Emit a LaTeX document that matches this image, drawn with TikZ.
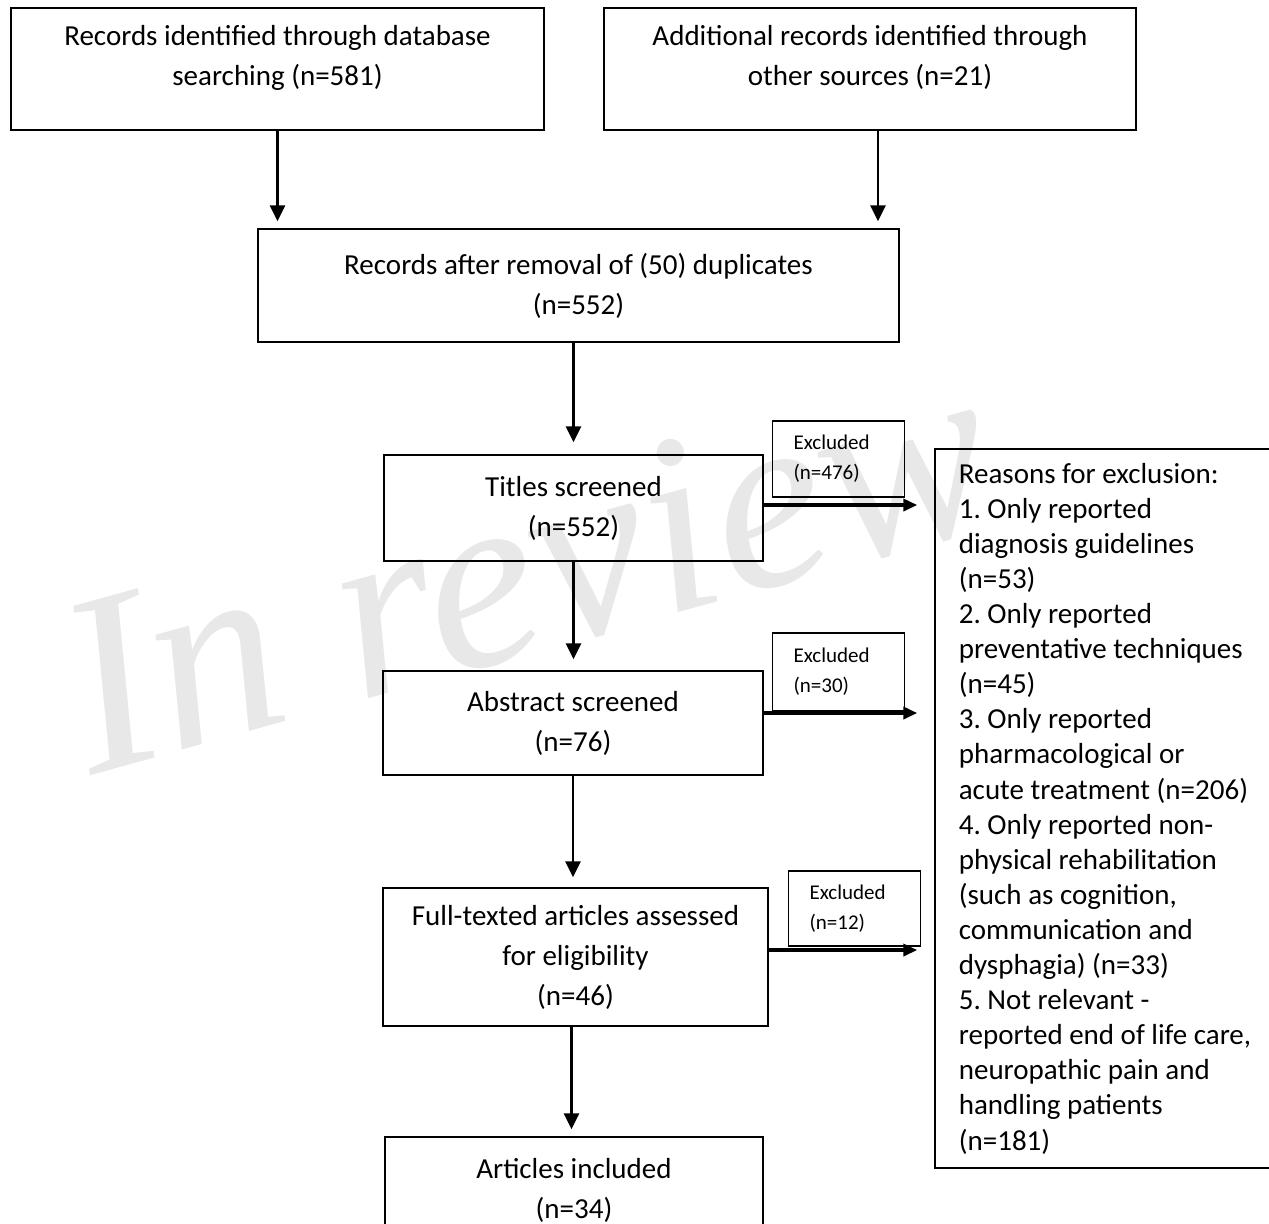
\documentclass[tikz,border=0pt]{standalone}
\usepackage{fontspec}
\setmainfont{Carlito}
\newfontfamily\wmfont{Liberation Serif}
\usetikzlibrary{arrows.meta, positioning, calc}
\frenchspacing

\begin{document}
\begin{tikzpicture}[x=0.5pt, y=-0.5pt,
        box/.style={draw, line width=0.7pt, align=center, inner sep=0pt,
                    font=\fontsize{14.5pt}{20pt}\selectfont},
        exbox/.style={draw, line width=0.7pt, align=left, inner xsep=10.5pt, inner ysep=0pt,
                      text width=45pt, font=\fontsize{10.5pt}{15pt}\selectfont},
        down/.style={-{Triangle[length=8pt, width=7.5pt]}, line width=1.3pt},
        side/.style={-{Triangle[length=7pt, width=6pt]}, line width=2pt}]
        \useasboundingbox (0, 0) rectangle (1269, 1223);
        \clip (0, 0) rectangle (1269, 1223);

        % watermark
        \node[rotate=15.5, text=black!9, font=\wmfont\itshape\fontsize{128pt}{128pt}\selectfont] (wm) at (527, 568) {In review};

        % main column
        \node[box, minimum width=266.5pt, minimum height=61pt, text depth=14pt] (db) at (277.5, 69)
            {Records identified through database\\searching (n=581)};
        \node[box, minimum width=266pt, minimum height=61pt, text depth=14pt] (other) at (870, 69)
            {Additional records identified through\\other sources (n=21)};
        \node[box, minimum width=320.5pt, minimum height=56.5pt] (dup) at (578.5, 285.5)
            {Records after removal of (50) duplicates\\(n=552)};
        \node[box, minimum width=189.5pt, minimum height=53pt] (titles) at (573.5, 508)
            {Titles screened\\(n=552)};
        \node[box, minimum width=190pt, minimum height=52pt] (abstract) at (573, 723)
            {Abstract screened\\(n=76)};
        \node[box, minimum width=192.5pt, minimum height=69pt] (full) at (575.5, 957)
            {Full-texted articles assessed\\for eligibility\\(n=46)};
        \node[box, minimum width=189pt, minimum height=53pt] (incl) at (574, 1190)
            {Articles included\\(n=34)};

        % excluded counts
        \node[exbox, minimum height=38pt] (ex1) at (838.5, 459) {Excluded\\(n=476)};
        \node[exbox, minimum height=39pt] (ex2) at (838.5, 672) {Excluded\\(n=30)};
        \node[exbox, minimum height=37.5pt] (ex3) at (854.5, 908.5) {Excluded\\(n=12)};

        % reasons
        \node[draw, line width=0.7pt, align=left, inner sep=0pt,
              minimum width=170pt, minimum height=359.5pt,
              font=\fontsize{14.5pt}{17.55pt}\selectfont] (reasons) at (1105, 808.5)
            {Reasons for exclusion:\\
             1. Only reported\\
             diagnosis guidelines\\
             (n=53)\\
             2. Only reported\\
             preventative techniques\\
             (n=45)\\
             3. Only reported\\
             pharmacological or\\
             acute treatment (n=206)\\
             4. Only reported non-\\
             physical rehabilitation\\
             (such as cognition,\\
             communication and\\
             dysphagia) (n=33)\\
             5. Not relevant -\\
             reported end of life care,\\
             neuropathic pain and\\
             handling patients\\
             (n=181)};

        % arrows
        \draw[down, shorten >=3.5pt] (db.south) -- (db.south |- dup.north);
        \draw[down, shorten >=3.5pt] ([xshift=4pt]other.south) -- ([xshift=4pt]other.south |- dup.north);
        \draw[down, shorten >=6pt] (titles.north |- dup.south) -- (titles.north);
        \draw[down, shorten >=5.5pt] (titles.south) -- (titles.south |- abstract.north);
        \draw[down, shorten >=5pt] (abstract.south) -- (abstract.south |- full.north);
        \draw[down, shorten >=3.5pt] ([xshift=-2pt]full.south) -- ([xshift=-2pt]full.south |- incl.north);

        \coordinate (r1) at ($(reasons.west)+(-17, 0)$);
        \draw[side] ([yshift=1.5pt]titles.east) -- ([yshift=1.5pt]titles.east -| r1);
        \draw[side] ([yshift=5pt]abstract.east) -- ([yshift=5pt]abstract.east -| r1);
        \draw[side] ([yshift=3.5pt]full.east) -- ([yshift=3.5pt]full.east -| r1);
\end{tikzpicture}
\end{document}
